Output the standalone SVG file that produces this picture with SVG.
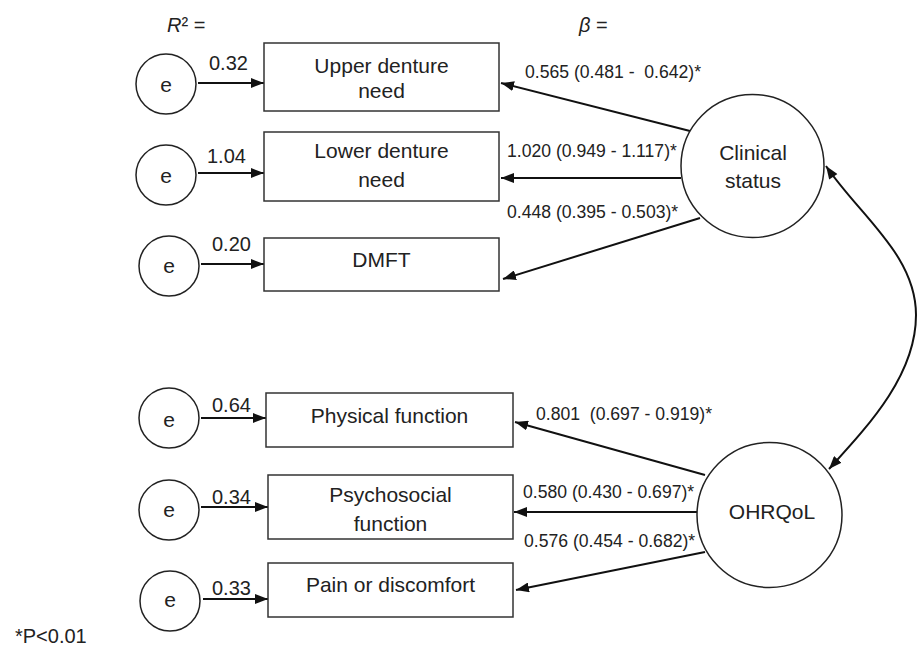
<svg xmlns="http://www.w3.org/2000/svg" width="917" height="647" viewBox="0 0 917 647">
<style>
text{font-family:"Liberation Sans",Arial,sans-serif;fill:#222}
.n{font-size:21px;text-anchor:middle}
.r{font-size:20px}
.b{font-size:17.6px}
.box{fill:#fff;stroke:#333;stroke-width:1.5}
.cir{fill:#fff;stroke:#222;stroke-width:1.5}
.arr{fill:none;stroke:#111;stroke-width:2;marker-end:url(#ah)}
</style>
<defs>
<marker id="ah" markerUnits="userSpaceOnUse" markerWidth="14" markerHeight="10" refX="13" refY="5" orient="auto">
<path d="M0,0 L13,5 L0,10 z" fill="#111"/>
</marker>
<marker id="ahs" markerUnits="userSpaceOnUse" markerWidth="14" markerHeight="10" refX="0" refY="5" orient="auto">
<path d="M13,0 L0,5 L13,10 z" fill="#111"/>
</marker>
</defs>
<text class="r" x="167" y="32"><tspan font-style="italic">R</tspan>² =</text>
<text class="r" x="579" y="32"><tspan font-style="italic">β</tspan> =</text>
<g id="connectors">
<path class="arr" d="M198 83 L264 83"/>
<path class="arr" d="M198 173 L264 173"/>
<path class="arr" d="M201 264 L264 264"/>
<path class="arr" d="M201 418 L266 418"/>
<path class="arr" d="M201 507 L268 507"/>
<path class="arr" d="M203 599 L268 599"/>
<path class="arr" d="M690 131 L501 83"/>
<path class="arr" d="M681 178 L501 178"/>
<path class="arr" d="M700 218 L503 279"/>
<path class="arr" d="M705 475 L515 422"/>
<path class="arr" d="M697 512 L514 512"/>
<path class="arr" d="M705 552 L516 590"/>
<path class="arr" style="marker-start:url(#ahs)" d="M826 166 C860 216 916 255 916 315 C916 375 869 425 829 469"/>
<text class="r" x="209" y="70">0.32</text>
<text class="r" x="207" y="163">1.04</text>
<text class="r" x="212" y="251">0.20</text>
<text class="r" x="212" y="412">0.64</text>
<text class="r" x="212" y="504">0.34</text>
<text class="r" x="212" y="595">0.33</text>
<text class="b" x="525" y="78" xml:space="preserve">0.565 (0.481 -  0.642)*</text>
<text class="b" x="507" y="157">1.020 (0.949 - 1.117)*</text>
<text class="b" x="507" y="218">0.448 (0.395 - 0.503)*</text>
<text class="b" x="536" y="420" xml:space="preserve">0.801  (0.697 - 0.919)*</text>
<text class="b" x="523" y="498">0.580 (0.430 - 0.697)*</text>
<text class="b" x="524" y="547">0.576 (0.454 - 0.682)*</text>
</g>
<g id="e1"><circle class="cir" cx="166" cy="84" r="30"/><text class="n" x="166" y="92">e</text></g>
<g id="e2"><circle class="cir" cx="166" cy="175" r="30"/><text class="n" x="166" y="183">e</text></g>
<g id="e3"><circle class="cir" cx="169" cy="266" r="30"/><text class="n" x="169" y="273">e</text></g>
<g id="e4"><circle class="cir" cx="169" cy="418" r="30"/><text class="n" x="169" y="427">e</text></g>
<g id="e5"><circle class="cir" cx="169" cy="510" r="30"/><text class="n" x="169" y="517">e</text></g>
<g id="e6"><circle class="cir" cx="170" cy="601" r="30"/><text class="n" x="170" y="607">e</text></g>
<g id="upper"><rect class="box" x="264" y="43" width="235" height="68"/><text class="n" x="381.5" y="73">Upper denture</text><text class="n" x="381.5" y="98">need</text></g>
<g id="lower"><rect class="box" x="264" y="132" width="235" height="69"/><text class="n" x="381.5" y="158">Lower denture</text><text class="n" x="381.5" y="187">need</text></g>
<g id="dmft"><rect class="box" x="264" y="238" width="235" height="53"/><text class="n" x="381.5" y="267">DMFT</text></g>
<g id="physical"><rect class="box" x="266" y="393" width="247" height="54"/><text class="n" x="389.5" y="423">Physical function</text></g>
<g id="psycho"><rect class="box" x="268" y="475" width="245" height="64"/><text class="n" x="390.5" y="502">Psychosocial</text><text class="n" x="390.5" y="531">function</text></g>
<g id="pain"><rect class="box" x="268" y="563" width="245" height="54"/><text class="n" x="390.5" y="592">Pain or discomfort</text></g>
<g id="clinical"><circle class="cir" cx="752.5" cy="166" r="71.5"/><text class="n" x="753" y="160">Clinical</text><text class="n" x="753" y="188">status</text></g>
<g id="ohrqol"><circle class="cir" cx="769.5" cy="515" r="72.5"/><text class="n" x="772" y="519">OHRQoL</text></g>
<text class="r" x="15" y="643">*P&lt;0.01</text>
</svg>
